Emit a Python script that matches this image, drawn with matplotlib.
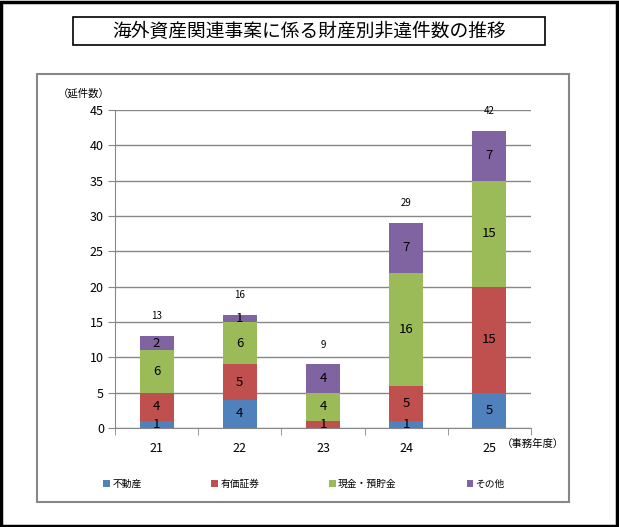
import numpy as np
import matplotlib.pyplot as plt
from matplotlib.patches import Rectangle

plt.rcParams['font.family'] = ['Noto Sans CJK JP', 'DejaVu Sans']

# データ
years = ['21', '22', '23', '24', '25']
fudousan = [1, 4, 0, 1, 5]
yuuka = [4, 5, 1, 5, 15]
genkin = [6, 6, 4, 16, 15]
sonota = [2, 1, 4, 7, 7]
series_names = ['不動産', '有価証券', '現金・預貯金', 'その他']
colors = ['#4F81BD', '#C0504D', '#9BBB59', '#8064A2']

W, H = 619, 527
fig = plt.figure(figsize=(W / 100, H / 100), dpi=100)

# 外枠
fig.patches.append(Rectangle((0.002, 0.002), 0.995, 0.995, transform=fig.transFigure,
                             fill=False, edgecolor='black', linewidth=2.5))
# グラフ枠
fig.patches.append(Rectangle((37 / W, 1 - 502 / H), (569 - 37) / W, (502 - 74) / H,
                             transform=fig.transFigure, fill=False,
                             edgecolor='#878787', linewidth=1.5))
# タイトル枠
fig.patches.append(Rectangle((73 / W, 1 - 45 / H), (545 - 73) / W, (45 - 17) / H,
                             transform=fig.transFigure, fill=False,
                             edgecolor='black', linewidth=1.2))
fig.text(309 / W, 1 - 31 / H, '海外資産関連事案に係る財産別非違件数の推移',
         ha='center', va='center', fontsize=13.5)

ax = fig.add_axes([115 / W, 1 - 428 / H, (531 - 115) / W, (428 - 110) / H])

x = np.arange(len(years))
data = [fudousan, yuuka, genkin, sonota]
bottom = np.zeros(len(years))
for vals, name, c in zip(data, series_names, colors):
    vals = np.array(vals)
    ax.bar(x, vals, width=0.41, bottom=bottom, color=c, label=name, zorder=3)
    for xi, b, v in zip(x, bottom, vals):
        if v > 0:
            ax.text(xi, b + v / 2, str(v), ha='center', va='center', fontsize=9.5, zorder=4)
    bottom = bottom + vals

for xi, t in zip(x, bottom):
    ax.text(xi, t + 2.8, str(int(t)), ha='center', va='center', fontsize=7)

ax.set_xlim(-0.5, len(years) - 0.5)
ax.set_ylim(0, 45)
ax.set_yticks(range(0, 46, 5))
ax.set_xticks(x)
ax.set_xticklabels(years)
ax.set_xticks(np.arange(-0.5, len(years), 1), minor=True)
ax.tick_params(axis='x', which='major', length=0, pad=10, labelsize=9)
ax.tick_params(axis='x', which='minor', length=5, color='#878787')
ax.tick_params(axis='y', length=5, color='#878787', labelsize=9, pad=3)
ax.grid(axis='y', color='#878787', linewidth=1, zorder=0)
for s in ['top', 'right']:
    ax.spines[s].set_visible(False)
ax.spines['left'].set_color('#878787')
ax.spines['bottom'].set_color('#878787')

fig.text(84 / W, 1 - 93 / H, '（延件数）', ha='center', va='center', fontsize=7.5)
fig.text(533 / W, 1 - 444 / H, '（事務年度）', ha='center', va='center', fontsize=7.5)

fig.legend(loc='center', bbox_to_anchor=(304 / W, 1 - 484 / H), ncol=4, frameon=False,
           fontsize=7, handlelength=0.7, handleheight=0.7, handletextpad=0.2,
           columnspacing=7.2)

fig.savefig('out.png', dpi=100)
